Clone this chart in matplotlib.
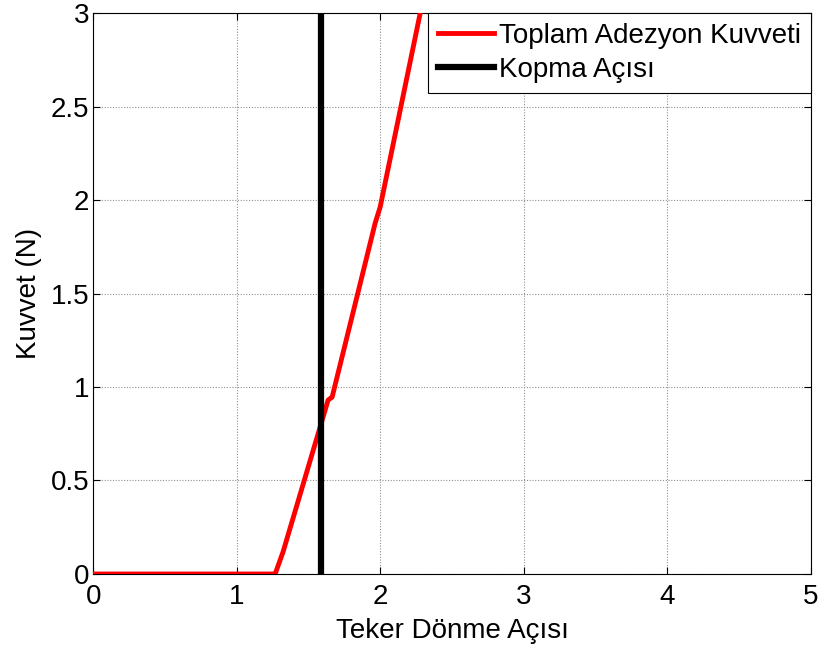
import matplotlib
matplotlib.use("Agg")
import matplotlib.pyplot as plt

# Total adhesion force vs wheel rotation angle
angle = [0.0, 1.266, 1.321, 1.635, 1.663, 1.963, 1.998, 2.277]
force = [0.0, 0.0, 0.118, 0.93, 0.946, 1.877, 1.963, 3.0]
break_angle = 1.585

x_ticks = [0, 1, 2, 3, 4, 5]
y_ticks = [0, 0.5, 1, 1.5, 2, 2.5, 3]
y_tick_labels = ["0", "0.5", "1", "1.5", "2", "2.5", "3"]

plt.rcParams["font.family"] = ["Liberation Sans", "DejaVu Sans"]

fig = plt.figure(figsize=(8.2, 6.53), dpi=100)
ax = fig.add_axes([0.114, 0.121, 0.875, 0.859])

ax.plot(angle, force, color="#ff0000", lw=3.5, label="Toplam Adezyon Kuvveti",
        solid_joinstyle="round", zorder=3)
ax.axvline(break_angle, color="black", lw=4.5, label="Kopma Açısı", zorder=3)

ax.set_xlim(0, 5)
ax.set_ylim(0, 3)
ax.set_xticks(x_ticks)
ax.set_yticks(y_ticks)
ax.set_yticklabels(y_tick_labels)
ax.tick_params(direction="in", top=True, right=True, labelsize=20, length=5,
               width=0.8)
ax.tick_params(axis="x", pad=7)
ax.tick_params(axis="y", pad=3)
ax.grid(True, color="#909090", linestyle=(0, (1, 1.5)), linewidth=0.8)
ax.set_axisbelow(True)
for s in ax.spines.values():
    s.set_linewidth(0.8)

ax.set_xlabel("Teker Dönme Açısı", fontsize=20, labelpad=6)
ax.set_ylabel("Kuvvet (N)", fontsize=20, labelpad=6)

leg = ax.legend(loc="upper right", fontsize=20, frameon=True, fancybox=False,
                edgecolor="black", framealpha=1, borderaxespad=0,
                handlelength=2.0, handletextpad=0.2, borderpad=0.35,
                labelspacing=0.3)
leg.get_frame().set_linewidth(0.8)

fig.savefig("out.png", dpi=100)
